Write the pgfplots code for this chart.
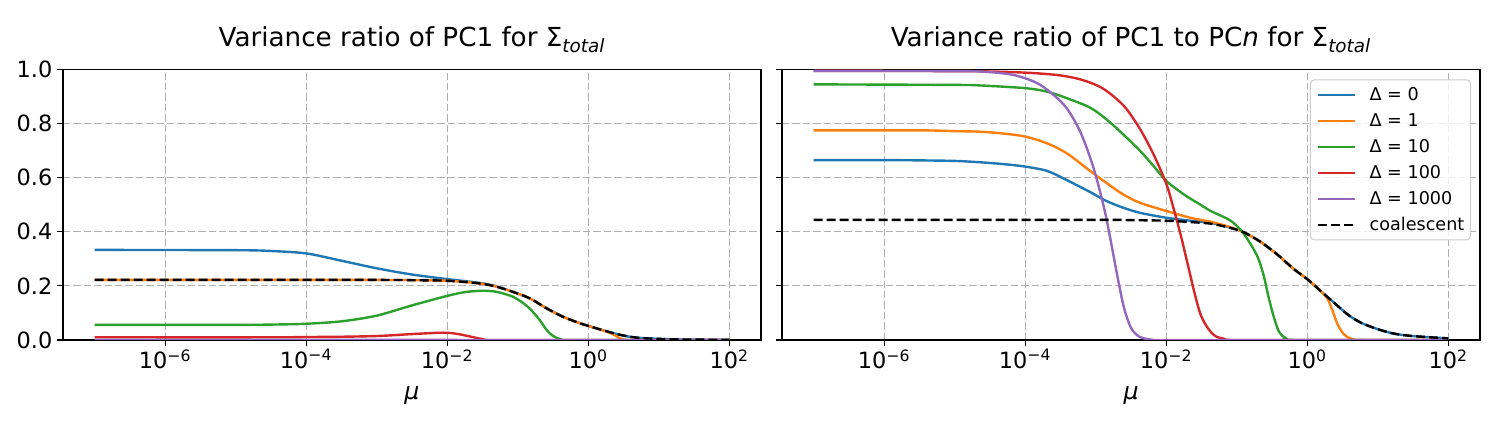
\documentclass[border=0pt]{standalone}
\usepackage{pgfplots}
\pgfplotsset{compat=1.18}
\usepackage{fontspec}
\setmainfont{DejaVu Sans}

\definecolor{tabblue}{HTML}{1F77B4}
\definecolor{taborange}{HTML}{FF7F0E}
\definecolor{tabgreen}{HTML}{2CA02C}
\definecolor{tabred}{HTML}{D62728}
\definecolor{tabpurple}{HTML}{9467BD}

\pgfplotsset{
  panel/.style={
    scale only axis, width=349pt, height=135.25pt,
    anchor=south west,
    xmin=-7.45, xmax=2.45, ymin=0, ymax=1,
    xtick={-6,-4,-2,0,2},
    xticklabels={10\textsuperscript{−6},10\textsuperscript{−4},10\textsuperscript{−2},10\textsuperscript{0},10\textsuperscript{2}},
    ytick={0,0.2,0.4,0.6,0.8,1},
    xtick pos=bottom, ytick pos=left,
    tick align=outside, major tick length=2.8pt,
    tick style={black, line width=0.6pt},
    axis line style={black, line width=0.6pt},
    grid=major,
    major grid style={draw=black!31, line width=0.5pt, dash pattern=on 3.7pt off 1.5pt},
    tick label style={font=\fontsize{11.2}{13}\selectfont},
    yticklabel style={anchor=east, inner sep=0pt, xshift=-2.35pt},
    xticklabel style={anchor=north, inner sep=0pt, yshift=-1.7pt},
    xlabel={\textit{μ}},
    xlabel style={font=\fontsize{11.8}{14}\selectfont, at={(axis description cs:0.5,0)}, anchor=base, yshift=-29.65pt},
    title style={font=\fontsize{13.1}{15}\selectfont, at={(axis description cs:0.5,1)}, anchor=base, yshift=5.3pt},
    every axis plot/.append style={line width=1.2pt, smooth, tension=0.5},
  },
  coal/.style={black, line width=1.2pt, dash pattern=on 4.5pt off 2pt},
}

\begin{document}
\begin{tikzpicture}
\path[use as bounding box] (0,0) rectangle (747.5pt,213.5pt);

% left: PC1 only
\begin{axis}[panel, at={(31.5pt,43.5pt)},
  yticklabels={0.0,0.2,0.4,0.6,0.8,1.0},
  title={Variance ratio of PC1 for Σ\textsubscript{\textit{total}}}]
\addplot[tabblue] coordinates {(-7,0.333) (-5,0.332) (-4.5,0.329) (-4,0.320) (-3.5,0.293) (-3,0.265) (-2.5,0.242) (-2,0.225) (-1.54,0.211) (-1.3,0.198) (-1.07,0.178) (-0.83,0.154) (-0.59,0.117) (-0.36,0.086) (-0.12,0.062) (0,0.052) (0.36,0.025) (0.59,0.012) (0.83,0.006) (1.3,0.002) (2,0.0005)};
\addplot[taborange] coordinates {(-7,0.222) (-3,0.222) (-2.5,0.221) (-2,0.219) (-1.54,0.209) (-1.3,0.197) (-1.07,0.178) (-0.83,0.154) (-0.59,0.117) (-0.36,0.086) (-0.12,0.062) (0,0.052) (0.2,0.036) (0.3,0.027) (0.38,0.017) (0.45,0.006) (0.52,0.001) (0.7,0) (2,0)};
\addplot[tabgreen] coordinates {(-7,0.056) (-5,0.056) (-4.5,0.057) (-4,0.060) (-3.5,0.069) (-3,0.090) (-2.5,0.128) (-2,0.163) (-1.75,0.177) (-1.5,0.182) (-1.3,0.178) (-1.07,0.160) (-0.9,0.132) (-0.8,0.108) (-0.69,0.074) (-0.59,0.037) (-0.5,0.015) (-0.38,0.002) (-0.2,0) (2,0)};
\addplot[tabred] coordinates {(-7,0.010) (-4.5,0.010) (-4,0.011) (-3.5,0.012) (-2.96,0.015) (-2.49,0.022) (-2.06,0.027) (-1.87,0.023) (-1.68,0.013) (-1.49,0.003) (-1.3,0) (2,0)};
\addplot[tabpurple] coordinates {(-7,0.001) (-3,0.001) (-2,0.0005) (-1.5,0) (2,0)};
\addplot[coal] coordinates {(-7,0.222) (-3,0.222) (-2.5,0.221) (-2,0.219) (-1.54,0.209) (-1.3,0.197) (-1.07,0.178) (-0.83,0.154) (-0.59,0.117) (-0.36,0.086) (-0.12,0.062) (0,0.052) (0.36,0.025) (0.59,0.012) (0.83,0.006) (1.3,0.002) (2,0.0005)};
\end{axis}

% right: PC1 to PCn
\begin{axis}[panel, at={(391pt,43.5pt)},
  yticklabels={},
  title={Variance ratio of PC1 to PC\textit{n} for Σ\textsubscript{\textit{total}}},
  legend cell align=left,
  legend image code/.code={\draw[#1] (0pt,0pt) -- (18.5pt,0pt);},
  legend style={at={(axis description cs:1,1)}, anchor=north east, xshift=-4.5pt, yshift=-4.9pt,
    font=\fontsize{8.8}{10}\selectfont, draw=black!20, line width=0.5pt, rounded corners=2pt,
    fill=white, fill opacity=0.8, text opacity=1,
    inner xsep=3.1pt, inner ysep=4.4pt, row sep=6.8pt, column sep=6.8pt,
    nodes={inner sep=0pt, text height=6.2pt, text depth=0pt}}]
\addplot[tabblue] coordinates {(-7,0.665) (-6,0.665) (-5.5,0.664) (-5,0.662) (-4.64,0.657) (-4.3,0.650) (-4,0.641) (-3.69,0.625) (-3.41,0.591) (-3.08,0.547) (-2.85,0.514) (-2.61,0.489) (-2.37,0.470) (-2,0.452) (-1.66,0.441) (-1.37,0.433) (-1.1,0.416) (-0.9,0.398) (-0.67,0.364) (-0.43,0.317) (-0.19,0.262) (0,0.225) (0.19,0.181) (0.38,0.138) (0.57,0.095) (0.76,0.064) (1.0,0.040) (1.24,0.023) (1.52,0.014) (2,0.006)};
\addlegendentry{Δ = 0}
\addplot[taborange] coordinates {(-7,0.775) (-5.5,0.775) (-5,0.772) (-4.64,0.770) (-4.3,0.763) (-4,0.752) (-3.69,0.727) (-3.41,0.690) (-3.08,0.625) (-2.85,0.581) (-2.61,0.538) (-2.37,0.507) (-2,0.477) (-1.66,0.452) (-1.37,0.437) (-1.1,0.418) (-0.9,0.398) (-0.67,0.364) (-0.43,0.317) (-0.19,0.262) (0,0.225) (0.19,0.181) (0.29,0.151) (0.36,0.107) (0.43,0.058) (0.52,0.021) (0.62,0.005) (0.8,0) (2,0)};
\addlegendentry{Δ = 1}
\addplot[tabgreen] coordinates {(-7,0.945) (-5,0.943) (-4.64,0.941) (-4,0.931) (-3.69,0.918) (-3.41,0.894) (-3.08,0.859) (-2.85,0.816) (-2.61,0.760) (-2.37,0.699) (-2.18,0.643) (-2,0.588) (-1.75,0.538) (-1.52,0.501) (-1.37,0.477) (-1.1,0.443) (-0.94,0.406) (-0.81,0.357) (-0.7,0.305) (-0.62,0.240) (-0.55,0.160) (-0.48,0.090) (-0.4,0.030) (-0.3,0.006) (-0.15,0) (2,0)};
\addlegendentry{Δ = 10}
\addplot[tabred] coordinates {(-7,0.995) (-5,0.994) (-4.4,0.992) (-3.9,0.987) (-3.5,0.978) (-3.2,0.962) (-2.9,0.930) (-2.6,0.865) (-2.37,0.779) (-2.18,0.686) (-2,0.578) (-1.9,0.490) (-1.8,0.393) (-1.7,0.285) (-1.6,0.175) (-1.51,0.092) (-1.4,0.040) (-1.3,0.014) (-1.17,0.004) (-1,0) (2,0)};
\addlegendentry{Δ = 100}
\addplot[tabpurple] coordinates {(-7,0.995) (-5,0.994) (-4.6,0.992) (-4.17,0.980) (-3.8,0.945) (-3.45,0.869) (-3.22,0.770) (-3.03,0.635) (-2.88,0.486) (-2.79,0.370) (-2.69,0.232) (-2.6,0.120) (-2.5,0.045) (-2.38,0.012) (-2.2,0.001) (-2,0) (2,0)};
\addlegendentry{Δ = 1000}
\addplot[coal] coordinates {(-7,0.444) (-3,0.444) (-2.5,0.443) (-2,0.441) (-1.6,0.435) (-1.37,0.430) (-1.1,0.415) (-0.9,0.398) (-0.67,0.364) (-0.43,0.317) (-0.19,0.262) (0,0.225) (0.19,0.181) (0.38,0.138) (0.57,0.095) (0.76,0.064) (1.0,0.040) (1.24,0.023) (1.52,0.014) (2,0.006)};
\addlegendentry{coalescent}
\end{axis}
\end{tikzpicture}
\end{document}
